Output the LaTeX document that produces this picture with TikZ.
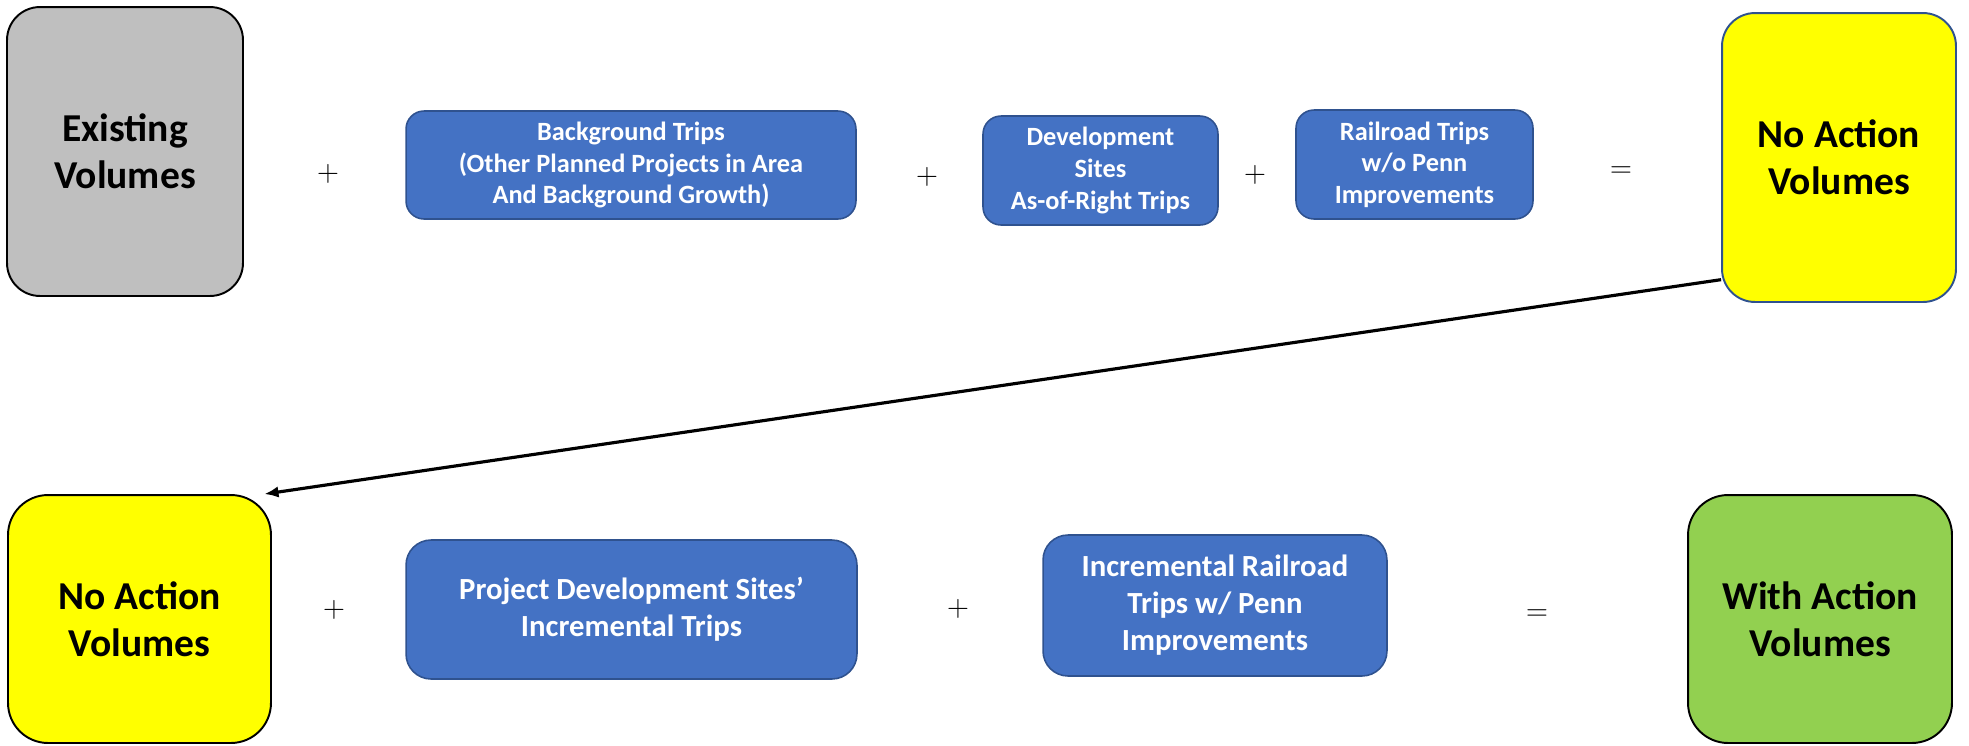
\documentclass[tikz,border=0pt]{standalone}
\usepackage{fontspec}
\setmainfont{Carlito}
\usepackage{tikz}
\usetikzlibrary{arrows.meta}
\definecolor{tripblue}{HTML}{4472C4}
\definecolor{tripline}{HTML}{2F528F}
\definecolor{existgray}{HTML}{BFBFBF}
\definecolor{actgreen}{HTML}{92D050}
\definecolor{noyellow}{HTML}{FFFF00}

\begin{document}
\begin{tikzpicture}[x=0.02cm,y=-0.02cm,
	volume/.style={draw=black,line width=1.1pt,rounded corners=0.66cm,align=center,inner sep=0pt,font=\fontsize{22.5}{26.7}\selectfont\bfseries},
	trips/.style={draw=tripline,fill=tripblue,line width=0.9pt,rounded corners=0.36cm,align=center,inner sep=0pt,text=white,font=\fontsize{15}{18}\selectfont\bfseries},
	bigtrips/.style={trips,rounded corners=0.5cm,font=\fontsize{17.5}{21}\selectfont\bfseries},
	op/.style={font=\fontsize{16}{16}\selectfont}]
	\useasboundingbox (0,0) rectangle (1969,745);
	\node[volume,fill=existgray,minimum width=4.72cm,minimum height=5.78cm] (exist) at (125,151.5) {Existing\\Volumes};
	\node[trips,minimum width=9cm,minimum height=2.16cm] (background) at (631,165) {Background Trips\\(Other Planned Projects in Area\\And Background Growth)};
	\node[trips,minimum width=4.7cm,minimum height=2.18cm] (devsites) at (1100.5,170.5) {Development\\Sites\\As-of-Right Trips};
	\node[trips,minimum width=4.74cm,minimum height=2.18cm] (railnopenn) at (1414.5,164.5) {Railroad Trips\\w/o Penn\\Improvements};
	\node[volume,fill=noyellow,draw=tripline,minimum width=4.68cm,minimum height=5.78cm] (noactiontop) at (1839,157.5) {No Action\\Volumes};
	\node[volume,fill=noyellow,rounded corners=0.8cm,minimum width=5.26cm,minimum height=4.96cm] (noaction) at (139.5,619) {No Action\\Volumes};
	\node[bigtrips,minimum width=9.02cm,minimum height=2.78cm] (projsites) at (631.5,609.5) {Project Development Sites’\\Incremental Trips};
	\node[bigtrips,minimum width=6.88cm,minimum height=2.82cm] (railpenn) at (1215,605.5) {Incremental Railroad\\Trips w/ Penn\\Improvements};
	\node[volume,fill=actgreen,rounded corners=0.8cm,minimum width=5.28cm,minimum height=4.96cm] (withaction) at (1820,619) {With Action\\Volumes};
	\node[op] (plusa) at (328,174) {$+$};
	\node[op] (plusb) at (927,177) {$+$};
	\node[op] (plusc) at (1255,175) {$+$};
	\node[op] (eqa) at (1621,172) {$=$};
	\node[op] (plusd) at (334,610) {$+$};
	\node[op] (pluse) at (958,609) {$+$};
	\node[op] (eqb) at (1537,615) {$=$};
	\draw[line width=1.8pt,-{Latex[length=8pt,width=6.5pt]}] (noactiontop.226) -- (noaction.45);
\end{tikzpicture}
\end{document}
